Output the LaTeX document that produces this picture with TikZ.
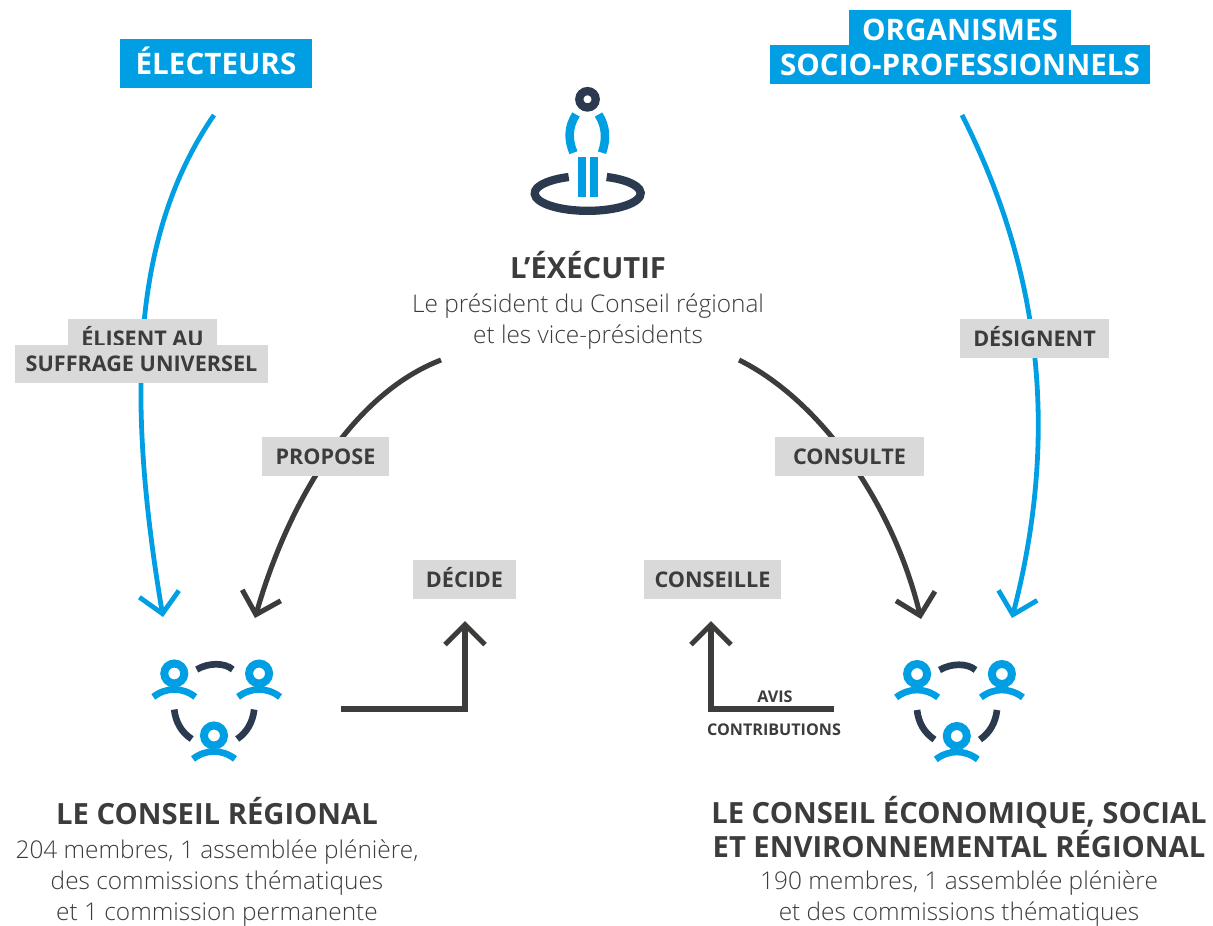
\documentclass[tikz,border=0pt]{standalone}
\usepackage{fontspec}
\setmainfont{Open Sans}[Ligatures=NoCommon]
\newfontfamily\finefont{Open Sans Light}[Ligatures=NoCommon]
\usetikzlibrary{arrows.meta}
\definecolor{bleu}{HTML}{009FE3}
\definecolor{encre}{HTML}{3C3C3B}
\definecolor{marine}{HTML}{2B3A4E}
\definecolor{gris}{HTML}{D9D9D9}
\tikzstyle{fleche} = [draw, -{Straight Barb[length=15pt,width=30pt]}]
\tikzstyle{fleche bleue} = [fleche, bleu, line width=3.6pt]
\tikzstyle{fleche noire} = [fleche, encre, line width=3.8pt]
\tikzstyle{source} = [fill=bleu, text=white, inner sep=0pt, text height=15.85pt, text depth=0pt, font=\fontsize{22.2}{24}\selectfont\bfseries]
\tikzstyle{action} = [fill=gris, text=encre, inner sep=0pt, text height=11.57pt, text depth=0pt, font=\fontsize{16.2}{20}\selectfont\bfseries]
\tikzstyle{titre} = [text=encre, align=center, font=\fontsize{21.9}{25.5}\selectfont\bfseries]
\tikzstyle{detail} = [text=encre, align=center, font=\fontsize{18.3}{23.25}\selectfont\finefont]
\tikzstyle{petit} = [text=encre, font=\fontsize{12.1}{14}\selectfont\bfseries]
\tikzstyle{trait} = [marine, line width=5pt]
\tikzstyle{membre} = [bleu, line width=5pt]
% trois membres autour d'une assemblee
\newcommand{\assemblee}[2]{
  \begin{scope}[shift={(#1,#2)}]
    \foreach \hx/\hy in {-42.4/-27, 42.4/-27, -2.7/35} {
      \draw [membre, line width=6pt] (\hx,\hy) circle (10);
      \draw [membre] (\hx-21,\hy+23.4) .. controls (\hx-8,\hy+13.5) and (\hx+8,\hy+13.5) .. (\hx+21,\hy+23.4);
    }
    \draw [trait] (-20,-31) .. controls (-8,-38) and (8,-38) .. (16,-31);
    \draw [trait] (-42.5,9) .. controls (-41,22) and (-35,32) .. (-25,38.5);
    \draw [trait] (37.5,9) .. controls (36,22) and (30,32) .. (20.5,38.5);
  \end{scope}
}
\begin{document}
\begin{tikzpicture}[x=0.75pt, y=-0.75pt]
  \useasboundingbox (0,0) rectangle (1213,925);

  \coordinate (electeursA) at (214,115);
  \coordinate (electeursB) at (163,617);
  \coordinate (organismesA) at (962,115);
  \coordinate (organismesB) at (1012,618);
  \coordinate (executifG) at (441,360);
  \coordinate (regionalH) at (255,618);
  \coordinate (executifD) at (739,360);
  \coordinate (ceserH) at (921,619);
  \coordinate (regionalD) at (341,709);
  \coordinate (decideB) at (465,621);
  \coordinate (ceserG) at (834,709);
  \coordinate (conseilleB) at (711,621);

  \draw [fleche bleue] (electeursA) .. controls (135,230) and (124,385) .. (electeursB);
  \draw [fleche bleue] (organismesA) .. controls (1020,230) and (1070,394) .. (organismesB);
  \draw [fleche noire] (executifG) .. controls (350,395) and (287,506) .. (regionalH);
  \draw [fleche noire] (executifD) .. controls (820,400) and (893,503) .. (ceserH);
  \draw [fleche noire] (regionalD) -| (decideB);
  \draw [fleche noire] (ceserG) -| (conseilleB);

  \node [source, minimum width=144pt, minimum height=37pt] (electeurs) at (216,63.5) {ÉLECTEURS};
  \node [source, text height=17.35pt, minimum width=166.5pt, minimum height=28pt] (organismes) at (960,29) {ORGANISMES};
  \node [source, minimum width=285pt, minimum height=29pt] (socio) at (960,64.5) {SOCIO-PROFESSIONNELS};

  \node [action, text height=18pt, minimum width=112pt, minimum height=22pt] (elisent) at (142.5,334) {ÉLISENT AU};
  \node [action, minimum width=190pt, minimum height=28pt] (suffrage) at (141.5,364) {SUFFRAGE UNIVERSEL};
  \node [action, minimum width=112pt, minimum height=29pt] (designent) at (1034.5,338.5) {DÉSIGNENT};
  \node [action, minimum width=95pt, minimum height=29pt] (propose) at (325.5,456.5) {PROPOSE};
  \node [action, minimum width=112pt, minimum height=29pt] (consulte) at (849.5,456.5) {CONSULTE};
  \node [action, minimum width=77pt, minimum height=29pt] (decide) at (464.5,579.5) {DÉCIDE};
  \node [action, minimum width=103pt, minimum height=29pt] (conseille) at (712.5,579.5) {CONSEILLE};

  \node [petit] (avis) at (775,697) {AVIS};
  \node [petit] (contributions) at (774,730) {CONTRIBUTIONS};

  % l'executif
  \draw [marine, line width=6.2pt] (587.5,99.3) circle (8.2);
  \draw [bleu, line width=6.4pt] (576,114.5) .. controls (568,127) and (568,140) .. (573.5,152.7);
  \draw [bleu, line width=6.4pt] (598.5,114.5) .. controls (606.5,127) and (606.5,140) .. (602,152.7);
  \fill [bleu] (577.7,156.7) rectangle (585.7,197.3);
  \fill [bleu] (589.7,156.7) rectangle (597.7,197.3);
  \draw [marine, line width=6.2pt] (606.7,177) arc [start angle=-69, end angle=249, x radius=53, y radius=17.5];

  \assemblee{216.7}{700.5}
  \assemblee{959.5}{701}

  \node [titre] (executif) at (588,265) {L’ÉXÉCUTIF};
  \node [detail] (executifdetail) at (588,322) {Le président du Conseil régional\\et les vice-présidents};
  \node [titre] (regional) at (217,811) {LE CONSEIL RÉGIONAL};
  \node [detail] (regionaldetail) at (217,883) {204 membres, 1 assemblée plénière,\\des commissions thématiques\\et 1 commission permanente};
  \node [titre, text depth=0pt] (ceser) at (959,827) {LE CONSEIL ÉCONOMIQUE, SOCIAL\\ET ENVIRONNEMENTAL RÉGIONAL};
  \node [detail] (ceserdetail) at (959,898.5) {190 membres, 1 assemblée plénière\\et des commissions thématiques};
\end{tikzpicture}
\end{document}
